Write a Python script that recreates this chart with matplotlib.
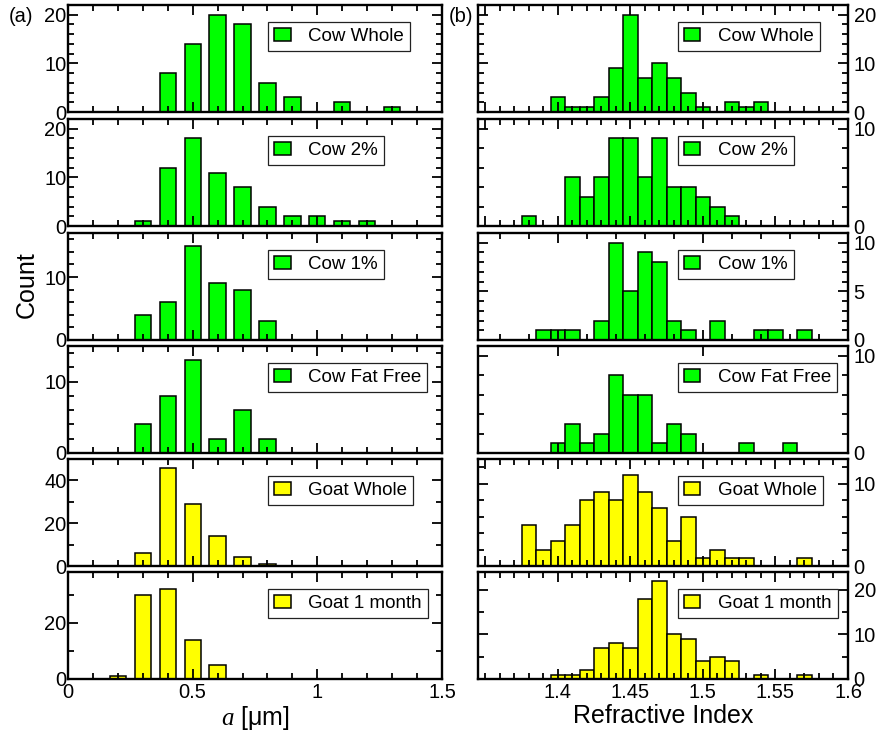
import matplotlib
matplotlib.use("Agg")
import matplotlib.pyplot as plt
from matplotlib.ticker import MultipleLocator, NullLocator
import numpy as np

plt.rcParams['font.family'] = ['Liberation Sans', 'DejaVu Sans']
plt.rcParams['mathtext.fontset'] = 'custom'
plt.rcParams['mathtext.it'] = 'Liberation Serif:italic'
plt.rcParams['mathtext.rm'] = 'Liberation Sans'

# ---------------- data ----------------
labels = ["Cow Whole", "Cow 2%", "Cow 1%", "Cow Fat Free", "Goat Whole", "Goat 1 month"]
colors = ["#00ff00", "#00ff00", "#00ff00", "#00ff00", "#ffff00", "#ffff00"]

size_centers = [0.2, 0.3, 0.4, 0.5, 0.6, 0.7, 0.8, 0.9, 1.0, 1.1, 1.2, 1.3]
cow_whole_size = [0, 0, 8, 14, 20, 18, 6, 3, 0, 2, 0, 1]
cow_2_size = [0, 1, 12, 18, 11, 8, 4, 2, 2, 1, 1, 0]
cow_1_size = [0, 4, 6, 15, 9, 8, 3, 0, 0, 0, 0, 0]
cow_ff_size = [0, 4, 8, 13, 2, 6, 2, 0, 0, 0, 0, 0]
goat_whole_size = [0, 6, 46, 29, 14, 4, 1, 0, 0, 0, 0, 0]
goat_1m_size = [1, 30, 32, 14, 5, 0, 0, 0, 0, 0, 0, 0]

ri_centers = [1.38, 1.39, 1.40, 1.41, 1.42, 1.43, 1.44, 1.45, 1.46, 1.47,
              1.48, 1.49, 1.50, 1.51, 1.52, 1.53, 1.54, 1.55, 1.56, 1.57]
cow_whole_ri = [0, 0, 3, 1, 1, 3, 9, 20, 7, 10, 7, 4, 1, 0, 2, 1, 2, 0, 0, 0]
cow_2_ri = [1, 0, 0, 5, 3, 5, 9, 9, 5, 9, 4, 4, 3, 2, 1, 0, 0, 0, 0, 0]
cow_1_ri = [0, 1, 1, 1, 0, 2, 10, 5, 9, 8, 2, 1, 0, 2, 0, 0, 1, 1, 0, 1]
cow_ff_ri = [0, 0, 1, 3, 1, 2, 8, 6, 6, 1, 3, 2, 0, 0, 0, 1, 0, 0, 1, 0]
goat_whole_ri = [5, 2, 3, 5, 8, 9, 8, 11, 9, 7, 3, 6, 1, 2, 1, 1, 0, 0, 0, 1]
goat_1m_ri = [0, 0, 1, 1, 2, 7, 8, 7, 18, 22, 10, 9, 4, 5, 4, 0, 1, 0, 0, 1]

size_series = [cow_whole_size, cow_2_size, cow_1_size, cow_ff_size, goat_whole_size, goat_1m_size]
ri_series = [cow_whole_ri, cow_2_ri, cow_1_ri, cow_ff_ri, goat_whole_ri, goat_1m_ri]

left_ylim = [22, 22, 17, 15, 50, 38]
left_major = [10, 10, 10, 10, 20, 20]
left_minor = [2, 2, 2, 2, 10, 10]
right_ylim = [22, 11, 11, 11, 13, 24]
right_major = [10, 10, 5, 10, 10, 10]
right_minor = [2, 2, 1, 2, 2, 5]
right_xmajor = [0.05, 0.05, 0.1, 0.1, 0.05, 0.05]
right_xminor = [0.01, 0.01, 0.02, None, 0.01, 0.01]

# ---------------- figure ----------------
W, H = 884, 731
fig = plt.figure(figsize=(W / 100, H / 100), dpi=100)

tops = [5, 119, 233, 346, 459, 572]
ph = 107
lx0, lx1 = 68, 442
rx0, rx1 = 478, 848

FS = 14.5
LFS = 13.5
AFS = 18


def style(ax, pad):
    for sp in ax.spines.values():
        sp.set_linewidth(1.7)
    ax.tick_params(which='both', direction='in', top=True, bottom=True,
                   left=True, right=True, width=1.3, labelsize=FS)
    ax.tick_params(which='major', length=7)
    ax.tick_params(which='minor', length=4)
    ax.tick_params(axis='y', pad=pad)
    ax.tick_params(axis='x', pad=3)


def add_legend(ax, x_px, width_px):
    leg = ax.legend(loc='upper left', bbox_to_anchor=(x_px / width_px, 1 - 17 / ph),
                    borderaxespad=0, fontsize=LFS, handlelength=0.9, handleheight=0.75,
                    handletextpad=0.95, borderpad=0.3, fancybox=False, framealpha=1,
                    edgecolor='#222222')
    leg.get_frame().set_linewidth(0.9)


for i in range(6):
    y0 = 1 - (tops[i] + ph) / H
    # left panel
    axl = fig.add_axes([lx0 / W, y0, (lx1 - lx0) / W, ph / H])
    vals = np.array(size_series[i])
    m = vals > 0
    axl.bar(np.array(size_centers)[m], vals[m], width=0.065, color=colors[i],
            edgecolor='black', linewidth=1.1, label=labels[i])
    axl.set_xlim(0, 1.5)
    axl.set_ylim(0, left_ylim[i])
    axl.xaxis.set_major_locator(MultipleLocator(0.5))
    axl.xaxis.set_minor_locator(MultipleLocator(0.1))
    axl.yaxis.set_major_locator(MultipleLocator(left_major[i]))
    axl.yaxis.set_minor_locator(MultipleLocator(left_minor[i]))
    style(axl, 1)
    axl.tick_params(labelleft=True, labelright=False)
    if i < 5:
        axl.tick_params(labelbottom=False)
    else:
        axl.set_xticks([0, 0.5, 1, 1.5])
        axl.set_xticklabels(['0', '0.5', '1', '1.5'])
        axl.set_xlabel(r'$a$ [μm]', fontsize=AFS, labelpad=1)
    add_legend(axl, 268 - lx0, lx1 - lx0)

    # right panel
    axr = fig.add_axes([rx0 / W, y0, (rx1 - rx0) / W, ph / H])
    vals = np.array(ri_series[i])
    m = vals > 0
    axr.bar(np.array(ri_centers)[m], vals[m], width=0.01, color=colors[i],
            edgecolor='black', linewidth=1.1, label=labels[i])
    axr.set_xlim(1.345, 1.6)
    axr.set_ylim(0, right_ylim[i])
    axr.xaxis.set_major_locator(MultipleLocator(right_xmajor[i]))
    if right_xminor[i] is None:
        axr.xaxis.set_minor_locator(NullLocator())
    else:
        axr.xaxis.set_minor_locator(MultipleLocator(right_xminor[i]))
    axr.yaxis.set_major_locator(MultipleLocator(right_major[i]))
    axr.yaxis.set_minor_locator(MultipleLocator(right_minor[i]))
    style(axr, 4)
    axr.tick_params(labelleft=False, labelright=True)
    if i < 5:
        axr.tick_params(labelbottom=False)
    else:
        axr.set_xticks([1.4, 1.45, 1.5, 1.55, 1.6])
        axr.set_xticklabels(['1.4', '1.45', '1.5', '1.55', '1.6'])
        axr.xaxis.set_minor_locator(MultipleLocator(0.01))
        axr.set_xlabel('Refractive Index', fontsize=AFS, labelpad=1)
    add_legend(axr, 678 - rx0, rx1 - rx0)

fig.text(9 / W, 1 - 16 / H, '(a)', fontsize=FS, va='center', ha='left')
fig.text(449 / W, 1 - 16 / H, '(b)', fontsize=FS, va='center', ha='left')
fig.text(27 / W, 1 - 285 / H, 'Count', fontsize=AFS, rotation=90, va='center', ha='center')

fig.savefig('out.png', dpi=100)
